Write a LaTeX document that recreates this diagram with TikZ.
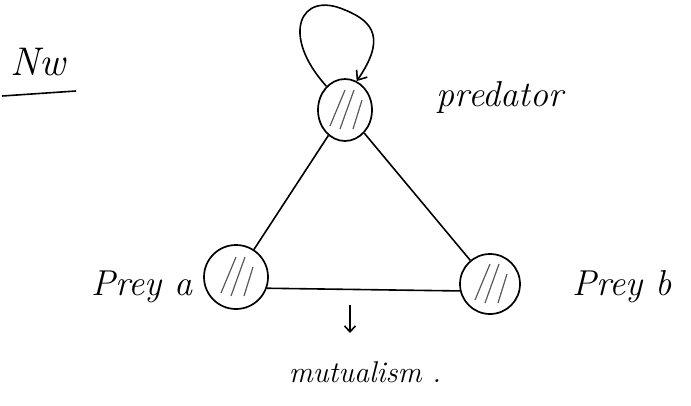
\documentclass[tikz,border=0pt]{standalone}
\usetikzlibrary{arrows.meta,shapes.geometric}
\begin{document}
\begin{tikzpicture}[x=1pt,y=-1pt,
  species/.style={draw,ellipse,line width=1.7pt,minimum width=#1,minimum height=#1,inner sep=0pt},
  link/.style={line width=1.6pt},
  hatch/.style={line width=1.2pt,gray!70!black},
  hand/.style={font=\fontsize{36}{38}\selectfont\itshape,inner sep=0pt}]
\useasboundingbox (0,0) rectangle (691,405);
% nodes
\node[species=58pt,minimum height=62pt,minimum width=54pt] (pred) at (345,110) {};
\node[species=64pt] (preya) at (236,277) {};
\node[species=60pt] (preyb) at (490,284) {};
% hatching
\foreach \n in {pred,preya,preyb}{
  \draw[hatch] ([shift={(-15,16)}]\n.center) -- ([shift={(0,-20)}]\n.center);
  \draw[hatch] ([shift={(-5,19)}]\n.center) -- ([shift={(9,-20)}]\n.center);
  \draw[hatch] ([shift={(8,19)}]\n.center) -- ([shift={(17,-10)}]\n.center);
}
% edges
\draw[link] (pred) -- (preya);
\draw[link] (pred) -- (preyb);
\draw[link] (preya.-20) -- (preyb.193);
% self loop
\draw[link,-{Straight Barb[length=8pt,width=13pt]}] (pred.128) .. controls (280,35) and (300,-10) .. (345,10) .. controls (375,22) and (385,40) .. (pred.68);
% labels
\node[hand] (lpred) at (500,97) {predator};
\node[hand] (lpa) at (142,287) {Prey a};
\node[hand] (lpb) at (622,287) {Prey b};
\node[hand,font=\fontsize{40}{42}\selectfont\itshape] (title) at (38,62) {Nw};
\coordinate (ul1) at (2,96);
\coordinate (ul2) at (76,91);
\draw[link] (ul1) -- (ul2);
\coordinate (arA) at (350,305);
\coordinate (arB) at (350,333);
\node[hand,font=\fontsize{30}{32}\selectfont\itshape] (mut) at (365,372) {mutualism .};
\draw[link,-{Straight Barb[length=6pt,width=11pt]}] (arA) -- (arB);
\end{tikzpicture}
\end{document}
